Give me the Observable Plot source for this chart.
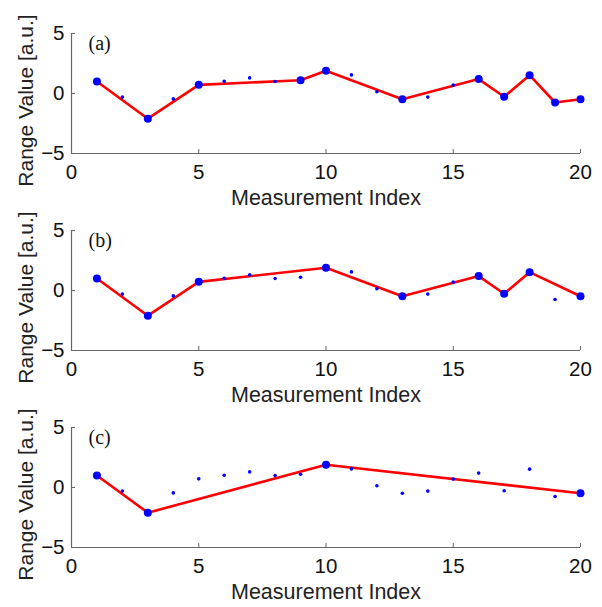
<!DOCTYPE html>
<html><head><meta charset="utf-8">
<script src="https://cdn.jsdelivr.net/npm/d3@7"></script>
<script src="https://cdn.jsdelivr.net/npm/@observablehq/plot@0.6"></script>
<style>
body{margin:0;background:#fff;}
#chart{position:relative;width:602px;height:607px;overflow:hidden;}
#chart svg{position:absolute;left:0;}
</style></head><body><div id="chart"></div>
<script>
const indices = [1,2,3,4,5,6,7,8,9,10,11,12,13,14,15,16,17,18,19,20];
const values = [1.0,-0.3,-2.1,-0.45,0.72,1.02,1.3,1.0,1.1,1.9,1.55,0.15,-0.48,-0.3,0.7,1.2,-0.27,1.53,-0.75,-0.48];
const panelLabels = ["(a)","(b)","(c)"];
const selectedA = [1,3,5,9,10,13,16,17,18,19,20];
const selectedB = [1,3,5,10,13,16,17,18,20];
const selectedC = [1,3,10,20];
const xTicks = [0,5,10,15,20];
const yTicks = [-5,0,5];
const xLabel = "Measurement Index";
const yLabel = "Range Value [a.u.]";

const all = indices.map((x,i)=>({x, y: values[i]}));
const selections = [selectedA, selectedB, selectedC];
const container = document.getElementById("chart");

selections.forEach((sel, p) => {
  const sub = all.filter(d => sel.includes(d.x));
  const svg = Plot.plot({
    width: 602, height: 213,
    marginTop: 33, marginBottom: 60, marginLeft: 71, marginRight: 22,
    style: {fontFamily: "'Liberation Sans', Arial, sans-serif", fontSize: "20.5px", background: "transparent", overflow: "visible", color: "#111"},
    x: {domain: [0,20]},
    y: {domain: [-5,5]},
    marks: [
      Plot.ruleX([0], {stroke: "#666", strokeWidth: 1.2}),
      Plot.ruleY([-5], {stroke: "#666", strokeWidth: 1.2}),
      Plot.axisX({ticks: xTicks, tickSize: -4, tickPadding: 15, stroke: "#666", label: null, fill: "#111"}),
      Plot.axisY({ticks: yTicks, tickSize: -4, tickPadding: 11, stroke: "#666", label: null, fill: "#111"}),
      Plot.text([xLabel], {frameAnchor: "bottom", dy: 51, fontSize: 21.5, fill: "#222"}),
      Plot.text([yLabel], {frameAnchor: "left", textAnchor: "middle", dx: -45, dy: 7, rotate: -90, fontSize: 21, fill: "#222"}),
      Plot.text([panelLabels[p]], {frameAnchor: "top-left", dx: 17, dy: 2, textAnchor: "start", fontFamily: "'Liberation Serif', 'Times New Roman', serif", fontSize: 20, fill: "#111"}),
      Plot.line(sub, {x: "x", y: "y", stroke: "#ff0000", strokeWidth: 2.6}),
      Plot.dot(all, {x: "x", y: "y", r: 1.8, fill: "#0000ff"}),
      Plot.dot(sub, {x: "x", y: "y", r: 4, fill: "#0000ff"})
    ]
  });
  svg.style.top = (p * 197) + "px";
  container.appendChild(svg);
});
</script></body></html>
